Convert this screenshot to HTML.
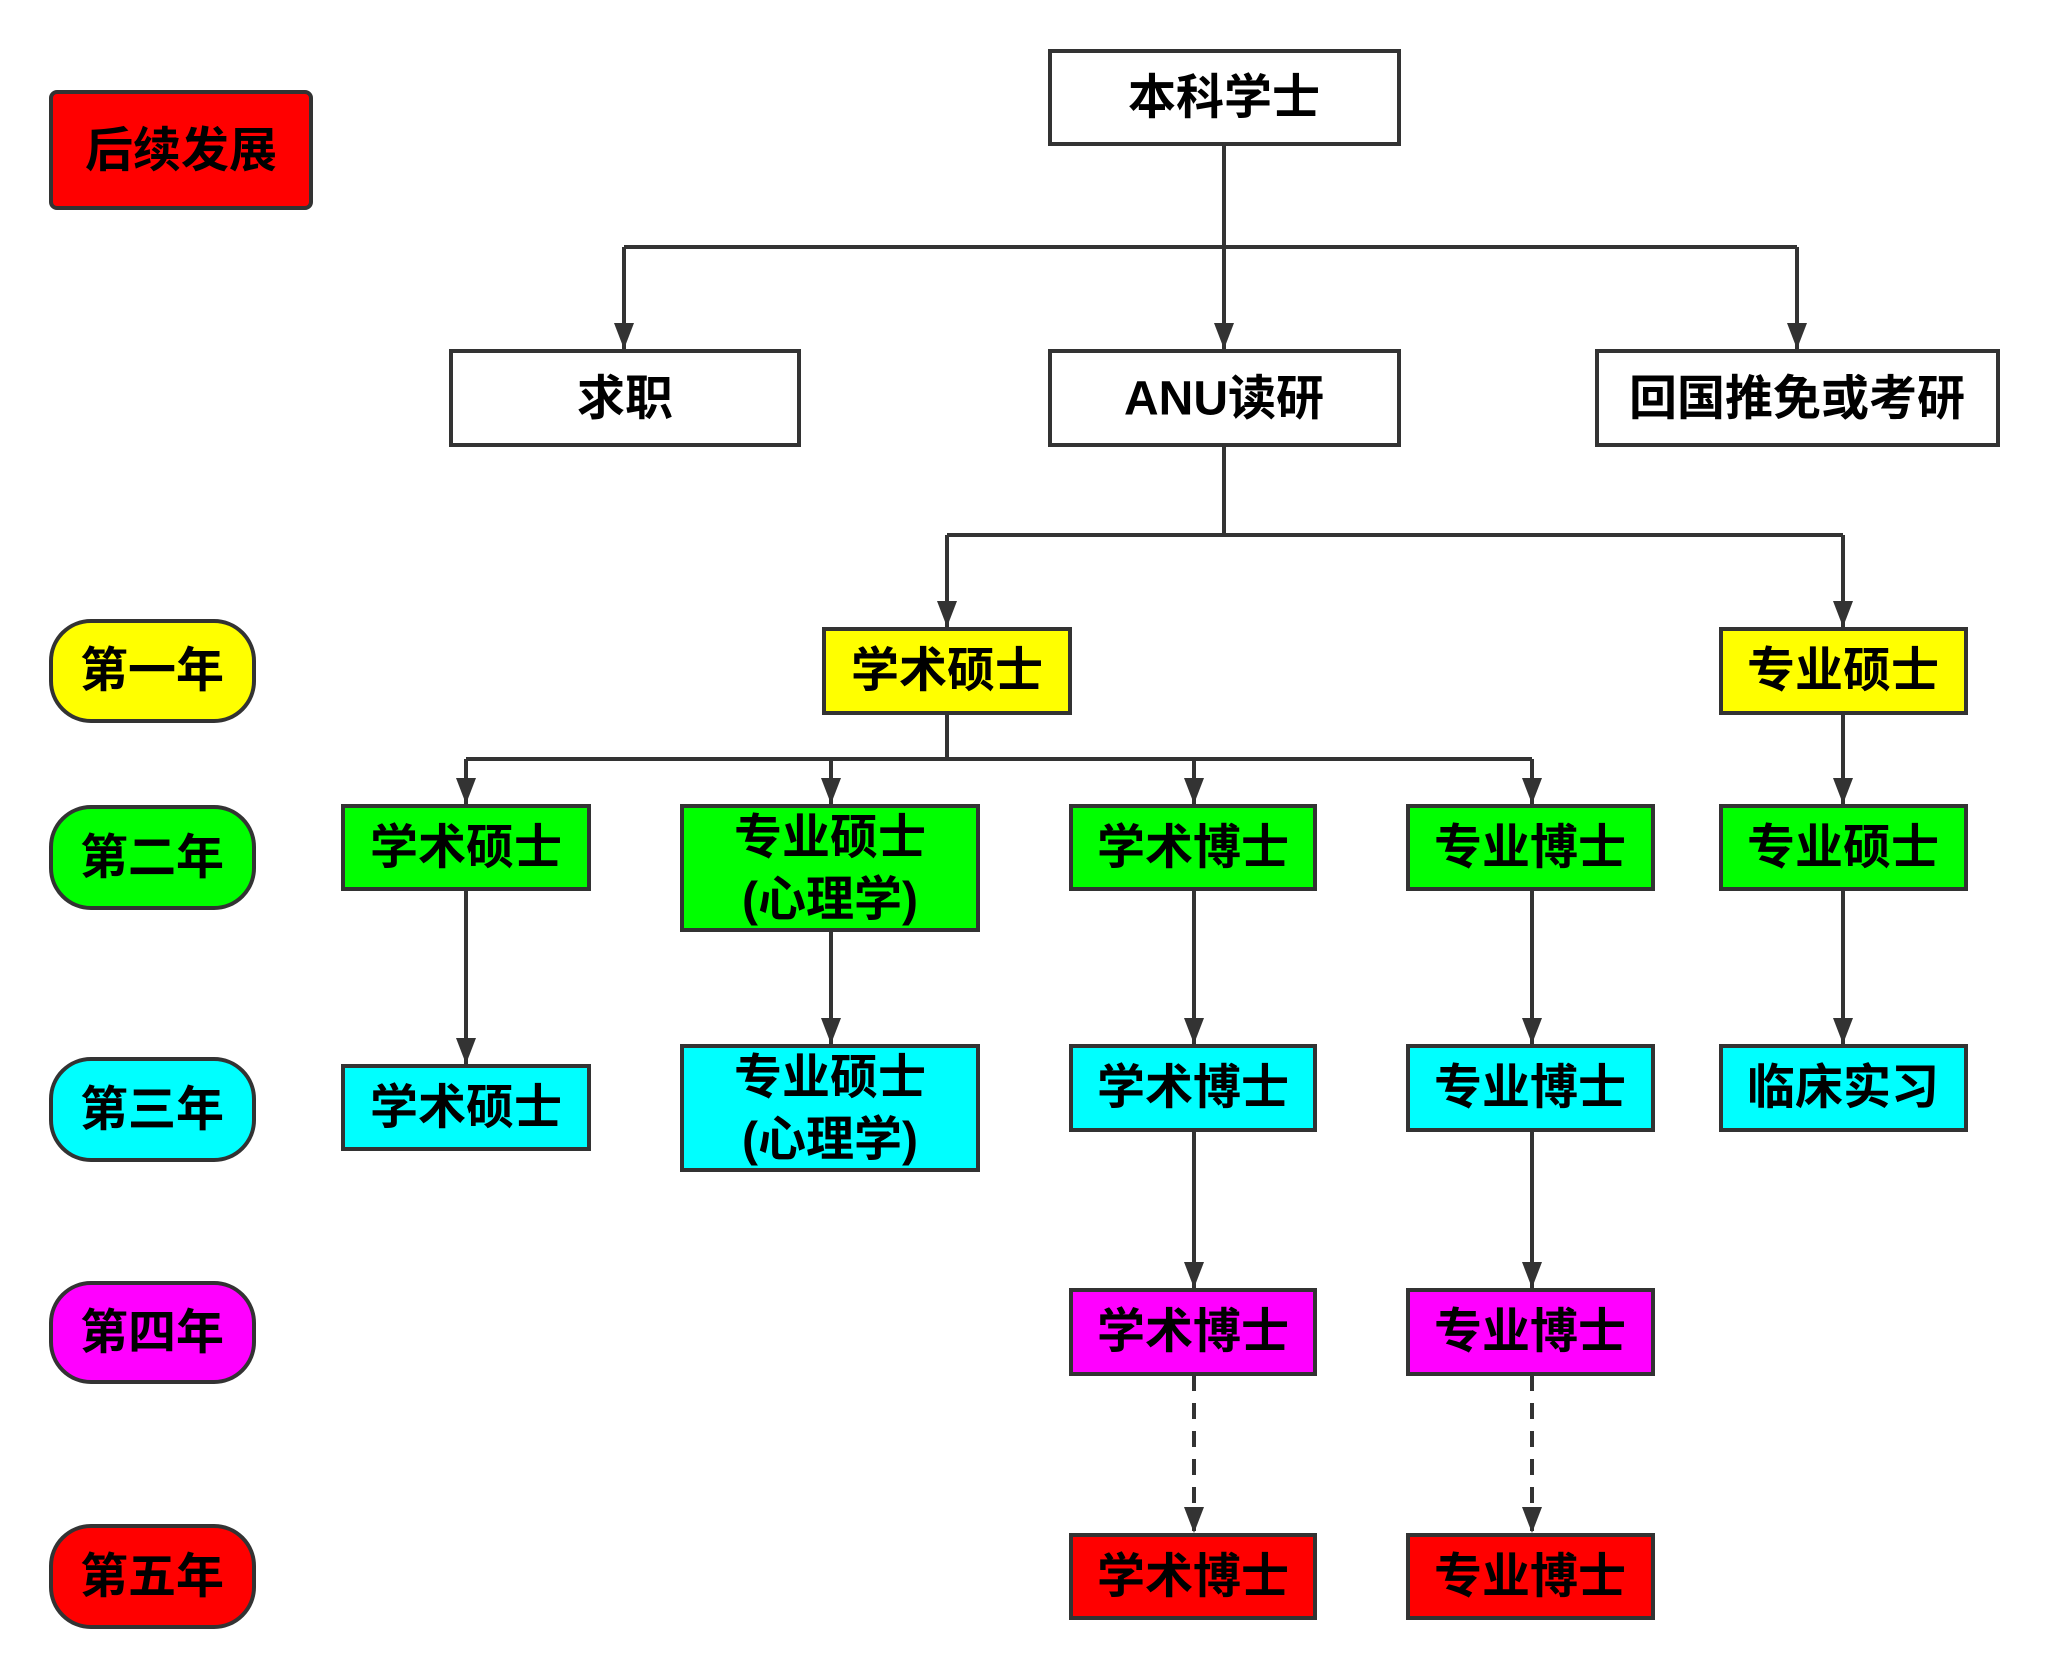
<!DOCTYPE html>
<html><head><meta charset="utf-8"><style>
html,body{margin:0;padding:0;background:#fff}
svg{display:block}
text{font-family:"Liberation Sans","Noto Sans CJK SC",sans-serif;font-weight:bold;font-size:48px;fill:#000;text-anchor:middle;dominant-baseline:central}
</style></head><body>
<svg width="2048" height="1679" viewBox="0 0 2048 1679" xmlns="http://www.w3.org/2000/svg">
<defs><marker id="a" markerWidth="26" markerHeight="20" refX="26" refY="10" orient="auto" markerUnits="userSpaceOnUse" viewBox="0 0 26 20"><path d="M0,0 L26,10 L0,20 Z" fill="#333"/></marker></defs>
<g stroke="#333" stroke-width="4" fill="none">
<path d="M1224,144 V247"/>
<path d="M624,247 H1797"/>
<path d="M624,247 V349" marker-end="url(#a)"/>
<path d="M1224,247 V349" marker-end="url(#a)"/>
<path d="M1797,247 V349" marker-end="url(#a)"/>
<path d="M1224,445 V535"/>
<path d="M947,535 H1843"/>
<path d="M947,535 V627" marker-end="url(#a)"/>
<path d="M1843,535 V627" marker-end="url(#a)"/>
<path d="M947,713 V759"/>
<path d="M466,759 H1532"/>
<path d="M466,759 V804" marker-end="url(#a)"/>
<path d="M831,759 V804" marker-end="url(#a)"/>
<path d="M1194,759 V804" marker-end="url(#a)"/>
<path d="M1532,759 V804" marker-end="url(#a)"/>
<path d="M1843,713 V804" marker-end="url(#a)"/>
<path d="M466,889 V1064" marker-end="url(#a)"/>
<path d="M831,930 V1044" marker-end="url(#a)"/>
<path d="M1194,889 V1044" marker-end="url(#a)"/>
<path d="M1532,889 V1044" marker-end="url(#a)"/>
<path d="M1843,889 V1044" marker-end="url(#a)"/>
<path d="M1194,1130 V1288" marker-end="url(#a)"/>
<path d="M1532,1130 V1288" marker-end="url(#a)"/>
<path d="M1194,1375 V1533" stroke-dasharray="16,12" marker-end="url(#a)"/>
<path d="M1532,1375 V1533" stroke-dasharray="16,12" marker-end="url(#a)"/>
</g>
<g stroke="#333" stroke-width="4">
<rect x="51" y="92" width="260" height="116" rx="6" fill="#ff0000"/>
<rect x="1050" y="51" width="349" height="93" fill="#fff"/>
<rect x="451" y="351" width="348" height="94" fill="#fff"/>
<rect x="1050" y="351" width="349" height="94" fill="#fff"/>
<rect x="1597" y="351" width="401" height="94" fill="#fff"/>
<rect x="824" y="629" width="246" height="84" fill="#ffff00"/>
<rect x="1721" y="629" width="245" height="84" fill="#ffff00"/>
<rect x="343" y="806" width="246" height="83" fill="#00ff00"/>
<rect x="682" y="806" width="296" height="124" fill="#00ff00"/>
<rect x="1071" y="806" width="244" height="83" fill="#00ff00"/>
<rect x="1408" y="806" width="245" height="83" fill="#00ff00"/>
<rect x="1721" y="806" width="245" height="83" fill="#00ff00"/>
<rect x="343" y="1066" width="246" height="83" fill="#00ffff"/>
<rect x="682" y="1046" width="296" height="124" fill="#00ffff"/>
<rect x="1071" y="1046" width="244" height="84" fill="#00ffff"/>
<rect x="1408" y="1046" width="245" height="84" fill="#00ffff"/>
<rect x="1721" y="1046" width="245" height="84" fill="#00ffff"/>
<rect x="1071" y="1290" width="244" height="84" fill="#ff00ff"/>
<rect x="1408" y="1290" width="245" height="84" fill="#ff00ff"/>
<rect x="1071" y="1535" width="244" height="83" fill="#ff0000"/>
<rect x="1408" y="1535" width="245" height="83" fill="#ff0000"/>
<rect x="51" y="621" width="203" height="100" rx="40" fill="#ffff00"/>
<rect x="51" y="807" width="203" height="101" rx="40" fill="#00ff00"/>
<rect x="51" y="1059" width="203" height="101" rx="40" fill="#00ffff"/>
<rect x="51" y="1283" width="203" height="99" rx="40" fill="#ff00ff"/>
<rect x="51" y="1526" width="203" height="101" rx="40" fill="#ff0000"/>
</g>
<text x="181" y="151">后续发展</text>
<text x="1224" y="98">本科学士</text>
<text x="625" y="399">求职</text>
<text x="1224" y="399">ANU读研</text>
<text x="1797" y="399">回国推免或考研</text>
<text x="947" y="671">学术硕士</text>
<text x="1843" y="671">专业硕士</text>
<text x="466" y="848">学术硕士</text>
<text x="830" y="838">专业硕士</text>
<text x="830" y="900">(心理学)</text>
<text x="1193" y="848">学术博士</text>
<text x="1530" y="848">专业博士</text>
<text x="1843" y="848">专业硕士</text>
<text x="466" y="1108">学术硕士</text>
<text x="830" y="1078">专业硕士</text>
<text x="830" y="1140">(心理学)</text>
<text x="1193" y="1088">学术博士</text>
<text x="1530" y="1088">专业博士</text>
<text x="1843" y="1088">临床实习</text>
<text x="1193" y="1332">学术博士</text>
<text x="1530" y="1332">专业博士</text>
<text x="1193" y="1577">学术博士</text>
<text x="1530" y="1577">专业博士</text>
<text x="152" y="671">第一年</text>
<text x="152" y="858">第二年</text>
<text x="152" y="1110">第三年</text>
<text x="152" y="1333">第四年</text>
<text x="152" y="1577">第五年</text>
</svg>
</body></html>
